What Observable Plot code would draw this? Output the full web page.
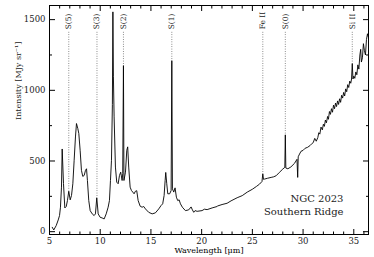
<!DOCTYPE html>
<html>
<head>
<meta charset="utf-8">
<script src="https://cdn.jsdelivr.net/npm/d3@7"></script>
<script src="https://cdn.jsdelivr.net/npm/@observablehq/plot@0.6"></script>
<style>
  html, body { margin: 0; padding: 0; background: #fff; }
  #chart svg { display: block; }
</style>
</head>
<body>
<div id="chart"></div>
<script>
// Spectrum: wavelength (μm) and intensity (MJy/sr)
const wavelength = [
  5.27, 5.42, 5.66, 5.86, 5.99, 6.08, 6.18, 6.25, 6.38, 6.51, 6.65, 6.77, 6.9, 7.04, 7.17, 7.3, 7.43, 7.56, 7.66, 7.79,
  7.89, 8.02, 8.15, 8.28, 8.42, 8.55, 8.65, 8.74, 8.87, 9.01, 9.21, 9.4, 9.53, 9.66, 9.8, 9.99, 10.19, 10.39, 10.59, 10.78,
  10.91, 11.01, 11.11, 11.2, 11.25, 11.3, 11.37, 11.5, 11.63, 11.77, 11.9, 12.02, 12.16, 12.22, 12.29, 12.34, 12.49, 12.62, 12.71, 12.81,
  12.95, 13.08, 13.21, 13.34, 13.47, 13.6, 13.74, 13.94, 14.13, 14.29, 14.46, 14.78, 15.12, 15.44, 15.77, 16.0, 16.16, 16.3, 16.4, 16.46,
  16.56, 16.66, 16.85, 16.99, 17.06, 17.12, 17.25, 17.38, 17.51, 17.64, 17.78, 17.91, 18.1, 18.4, 18.72, 18.96, 19.09, 19.22, 19.35, 19.55,
  20.04, 20.27, 20.54, 21.03, 21.52, 21.58, 22.01, 22.51, 22.9, 23.5, 24.0, 24.5, 25.0, 25.4, 25.7, 25.95, 26.03, 26.1, 26.2, 26.5,
  26.85, 27.1, 27.35, 27.66, 28.0, 28.2, 28.25, 28.3, 28.5, 28.8, 29.15, 29.4, 29.47, 29.52, 29.65, 29.8, 30.0, 30.2, 30.45, 30.7,
  30.9, 31.0, 31.15, 31.3, 31.45, 31.55, 31.65, 31.77, 31.9, 32.0, 32.1, 32.2, 32.3, 32.42, 32.5, 32.6, 32.7, 32.8, 32.9, 33.0,
  33.1, 33.2, 33.3, 33.4, 33.5, 33.6, 33.7, 33.8, 33.9, 34.0, 34.1, 34.2, 34.3, 34.4, 34.5, 34.6, 34.7, 34.78, 34.85, 34.92,
  35.0, 35.1, 35.2, 35.3, 35.4, 35.5, 35.6, 35.68, 35.75, 35.85, 35.95, 36.05, 36.15, 36.25, 36.35, 36.42
];
const intensity = [
  31, 12, 43, 83, 114, 173, 315, 585, 340, 168, 178, 220, 286, 225, 256, 339, 505, 670, 765, 730,
  694, 576, 434, 391, 398, 434, 445, 362, 220, 149, 126, 114, 126, 240, 126, 102, 97, 90, 126, 173,
  220, 362, 505, 900, 1555, 1100, 812, 457, 350, 339, 398, 421, 362, 410, 1175, 362, 421, 576, 600, 457,
  315, 291, 280, 268, 286, 290, 220, 180, 173, 178, 161, 137, 126, 133, 161, 185, 197, 256, 362, 419,
  339, 268, 268, 291, 1210, 303, 280, 310, 244, 220, 225, 197, 173, 149, 154, 175, 154, 137, 149, 144,
  149, 159, 156, 168, 178, 182, 192, 201, 218, 240, 255, 280, 300, 320, 336, 355, 410, 370, 372, 378,
  384, 388, 396, 419, 443, 455, 685, 450, 445, 458, 483, 512, 384, 530, 549, 569, 575, 590, 597, 610,
  625, 630, 660, 640, 665, 700, 690, 740, 720, 760, 745, 790, 770, 815, 795, 850, 830, 870, 845, 895,
  870, 910, 885, 925, 900, 940, 915, 965, 945, 985, 960, 1010, 990, 1040, 1020, 1065, 1050, 1080, 1190, 1080,
  1100, 1085, 1130, 1110, 1180, 1150, 1250, 1290, 1200, 1230, 1330, 1280, 1250, 1360, 1400, 1380
];

// Identified lines
const lineNames = ["S(5)", "S(3)", "S(2)", "S(1)", "Fe II", "S(0)", "Si II"];
const lineWavelengths = [6.9, 9.68, 12.29, 17.06, 26.03, 28.25, 34.85];
const linePeaks = [286, 240, 1175, 1210, 410, 685, 1190];
const lineLabelLevel = 1410;

// Axes ticks
const xMajor = [5, 10, 15, 20, 25, 30, 35];
const xMinor = [6, 7, 8, 9, 11, 12, 13, 14, 16, 17, 18, 19, 21, 22, 23, 24, 26, 27, 28, 29, 31, 32, 33, 34, 36];
const yMajor = [0, 500, 1000, 1500];
const yMinor = [250, 750, 1250];

const xLabel = "Wavelength [μm]";
const yLabel = "Intensity [MJy sr⁻¹]";
const annotation = ["NGC 2023", "Southern Ridge"];

const spectrum = wavelength.map((w, i) => ({w, v: intensity[i]}));
const lines = lineNames.map((name, i) => ({name, w: lineWavelengths[i], peak: linePeaks[i]}));

const font = "DejaVu Serif";
const blank = () => "";

const chart = Plot.plot({
  width: 374,
  height: 257,
  marginLeft: 49,
  marginRight: 6,
  marginTop: 5,
  marginBottom: 23,
  style: {fontFamily: font, fontSize: "8px", background: "white", color: "black"},
  x: {domain: [5, 36.45]},
  y: {domain: [-20, 1600]},
  marks: [
    // dotted line markers
    Plot.ruleX(lines, {x: "w", y1: () => lineLabelLevel, y2: "peak", stroke: "black", strokeWidth: 0.7, strokeDasharray: "0.8,1.6", strokeOpacity: 0.8}),
    Plot.text(lines, {x: "w", y: () => lineLabelLevel, text: "name", rotate: -90, textAnchor: "start", lineAnchor: "middle", dy: -3, fontSize: 7.5, fill: "#222"}),
    // spectrum
    Plot.line(spectrum, {x: "w", y: "v", stroke: "black", strokeWidth: 0.9, strokeLinejoin: "round"}),
    // frame and axes (inward ticks)
    Plot.frame({stroke: "black", strokeWidth: 1}),
    Plot.axisX(xMajor, {anchor: "bottom", tickSize: -5, tickPadding: 8, tickFormat: "d", label: null, fontSize: 8.5, fill: "#222"}),
    Plot.axisX(xMinor, {anchor: "bottom", tickSize: -2.5, tickFormat: blank, label: null}),
    Plot.axisX(xMajor, {anchor: "top", tickSize: -5, tickFormat: blank, label: null}),
    Plot.axisX(xMinor, {anchor: "top", tickSize: -2.5, tickFormat: blank, label: null}),
    Plot.axisY(yMajor, {anchor: "left", tickSize: -6, tickPadding: 10, tickFormat: "d", label: null, fontSize: 8.5, fill: "#222"}),
    Plot.axisY(yMinor, {anchor: "left", tickSize: -3, tickFormat: blank, label: null}),
    Plot.axisY(yMajor, {anchor: "right", tickSize: -6, tickFormat: blank, label: null}),
    Plot.axisY(yMinor, {anchor: "right", tickSize: -3, tickFormat: blank, label: null}),
    // axis titles
    Plot.text([xLabel], {frameAnchor: "bottom", dy: 16, lineAnchor: "middle", fontSize: 8, fill: "black"}),
    Plot.text([yLabel], {frameAnchor: "left", dx: -31, rotate: -90, lineAnchor: "middle", fontSize: 8, fill: "#222"}),
    // annotation
    Plot.text([annotation.join("\n")], {frameAnchor: "bottom-right", dx: -25, dy: -20, textAnchor: "end", lineAnchor: "bottom", lineHeight: 1.3, fontSize: 10, fill: "#222"})
  ]
});

document.getElementById("chart").appendChild(chart);
</script>
</body>
</html>
